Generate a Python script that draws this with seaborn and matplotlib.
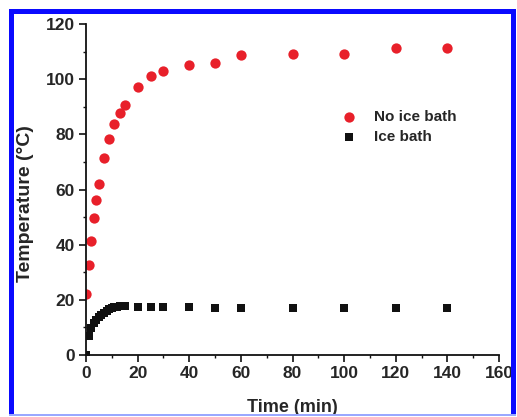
import matplotlib
matplotlib.use("Agg")
import matplotlib.pyplot as plt
import seaborn as sns
import pandas as pd
from matplotlib.patches import Rectangle
from matplotlib.ticker import MultipleLocator

# Data
time_no_ice = [0, 1, 2, 3, 4, 5, 7, 9, 11, 13, 15, 20, 25, 30, 40, 50, 60, 80, 100, 120, 140]
temp_no_ice = [22, 32.5, 41.3, 49.6, 56.3, 62, 71.3, 78.4, 83.6, 87.6, 90.6, 97, 101, 103,
               105.3, 105.8, 108.8, 109, 109.2, 111.3, 111.3]
time_ice = [0, 1, 2, 3, 4, 5, 6, 7, 8, 9, 10, 11, 12, 13, 14, 15, 20, 25, 30, 40, 50, 60, 80, 100, 120, 140]
temp_ice = [0, 7, 9.8, 11.5, 12.6, 13.6, 14.5, 15.3, 16, 16.6, 17, 17.3, 17.5, 17.6, 17.6, 17.6,
            17.5, 17.4, 17.3, 17.3, 17.1, 16.9, 17.1, 17.1, 17.1, 17.1]
series_names = ["No ice bath", "Ice bath"]
x_ticks = [0, 20, 40, 60, 80, 100, 120, 140, 160]
y_ticks = [0, 20, 40, 60, 80, 100, 120]

df = pd.DataFrame({
    "Time": time_no_ice + time_ice,
    "Temp": temp_no_ice + temp_ice,
    "Series": [series_names[0]] * len(time_no_ice) + [series_names[1]] * len(time_ice),
})

sns.set_style("white")
plt.rcParams["font.family"] = ["Liberation Sans", "DejaVu Sans"]
plt.rcParams["font.weight"] = "bold"

fig = plt.figure(figsize=(5.17, 4.17), dpi=100)
ax = fig.add_axes([86 / 517, 62 / 417, 413 / 517, 331 / 417])

palette = {series_names[0]: "#e8202a", series_names[1]: "#111111"}
markers = {series_names[0]: "o", series_names[1]: "s"}
sizes_map = {series_names[0]: 55, series_names[1]: 34}

for name in series_names:
    sub = df[df["Series"] == name]
    sns.scatterplot(data=sub, x="Time", y="Temp", ax=ax, color=palette[name],
                    marker=markers[name], s=sizes_map[name], linewidth=0,
                    label=name, legend=False)

ax.set_xlim(0, 160)
ax.set_ylim(0, 120)
ax.set_xticks(x_ticks)
ax.set_yticks(y_ticks)
ax.xaxis.set_minor_locator(MultipleLocator(10))
ax.yaxis.set_minor_locator(MultipleLocator(10))

for s in ["top", "right"]:
    ax.spines[s].set_visible(False)
for s in ["left", "bottom"]:
    ax.spines[s].set_color("#111111")
    ax.spines[s].set_linewidth(1.3)

ax.tick_params(axis="both", which="major", direction="out", length=5, width=1.2,
               color="#111111", labelsize=12.5, pad=3, left=True, bottom=True)
ax.tick_params(axis="both", which="minor", direction="out", length=2.5, width=1.0,
               color="#111111", left=True, bottom=True)
for lab in ax.get_xticklabels() + ax.get_yticklabels():
    lab.set_fontweight("bold")

ax.set_xlabel("Time (min)", fontsize=13, fontweight="bold", va="center")
ax.set_ylabel("Temperature (°C)", fontsize=14, fontweight="bold", va="center")
ax.xaxis.set_label_coords((292 - 86) / 413, (355 - 408) / 331)
ax.yaxis.set_label_coords((25 - 86) / 413, (355 - 203.5) / 331)

leg = ax.legend(loc="upper left", bbox_to_anchor=(0.6, 0.76), frameon=False,
                fontsize=11, handletextpad=1.05, labelspacing=0.4,
                borderaxespad=0, handlelength=1.2, markerscale=1.0)
for t in leg.get_texts():
    t.set_fontweight("bold")

# blue frame around the figure
W, H = 517, 417
def px_rect(x0, y0, x1, y1, color):
    fig.patches.append(Rectangle((x0 / W, 1 - y1 / H), (x1 - x0) / W, (y1 - y0) / H,
                                 transform=fig.transFigure, facecolor=color,
                                 edgecolor="none", zorder=10))
px_rect(9, 9, 516, 14, "#0a0aff")
px_rect(9, 9, 14, 416, "#0a0aff")
px_rect(511, 9, 516, 416, "#0a0aff")
px_rect(9, 414, 516, 416, "#9aa8ff")

fig.savefig("out.png", dpi=100)
